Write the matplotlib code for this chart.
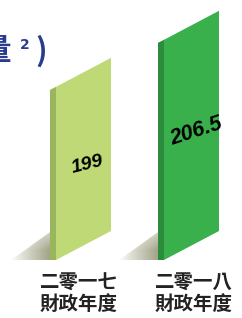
import matplotlib
matplotlib.use("Agg")
import matplotlib.pyplot as plt
import numpy as np
from matplotlib.patches import Polygon

categories = ["二零一七\n財政年度", "二零一八\n財政年度"]
values = [199, 206.5]
value_labels = ["199", "206.5"]
front_colors = ["#BFD977", "#39B04B"]
side_colors = ["#99B55E", "#2B8C3B"]
title_color = "#2A3C8E"

W, H = 242, 318
fig = plt.figure(figsize=(W / 100, H / 100), dpi=100)
ax = fig.add_axes([0, 0, 1, 1])
ax.set_xlim(0, W)
ax.set_ylim(H, 0)
ax.axis("off")

# value -> pixel height scale (axis does not start at zero)
base_val, px_per_unit = 171.7, 6.27
baseline = 260
bar_left = [50, 158]
side_w = 6
face_w = 55
skew = 29

def height(v):
    return (v - base_val) * px_per_unit

label_pos = [(0.58, 0.54), (0.58, 0.49)]
label_rot = [14, 18]
label_size = [14, 15.5]

for i, v in enumerate(values):
    x0 = bar_left[i]
    h = height(v)
    top = baseline - h
    xs = x0 + side_w
    xr = xs + face_w
    # shadow with gradient
    yy, xx = np.mgrid[0:40, 0:45]
    alpha = np.clip(1 - xx[:, ::-1] / 40.0, 0, 1) * np.clip((yy / 30.0), 0, 1) ** 0.8
    img = np.zeros((40, 45, 4))
    img[..., 0] = 0.45
    img[..., 1] = 0.45
    img[..., 2] = 0.28
    img[..., 3] = alpha * 0.65
    im = ax.imshow(img, extent=(x0 - 45, x0, baseline, baseline - 40), zorder=1,
                   interpolation="bilinear")
    clip = Polygon([(x0, baseline), (x0, baseline - 28), (x0 - 36, baseline - 2),
                    (x0 - 40, baseline)], closed=True, transform=ax.transData)
    im.set_clip_path(clip)
    # side strip
    ax.add_patch(Polygon([(x0, baseline), (xs, baseline), (xs, top - 2), (x0, top + 1)],
                         closed=True, facecolor=side_colors[i], edgecolor="none", zorder=2))
    # front face
    ax.add_patch(Polygon([(xs, baseline), (xr, baseline - skew), (xr, top - skew - 2),
                          (xs, top - 2)], closed=True, facecolor=front_colors[i],
                         edgecolor="none", zorder=2))
    # value label
    fx, fy = label_pos[i]
    cx = xs + face_w * fx
    cy = top + h * fy - skew * fx
    ax.text(cx, cy, value_labels[i], rotation=label_rot[i],
            ha="center", va="center", fontsize=label_size[i], fontstyle="italic",
            fontweight="bold", family=["Liberation Sans", "DejaVu Sans"], color="black",
            zorder=3)
    # category label
    ax.text(xs + face_w / 2 - 5 + i * 7, 294, categories[i], ha="center", va="center",
            fontsize=14, fontweight="bold", family=["Noto Sans CJK TC", "DejaVu Sans"],
            color="#222222", linespacing=1.15, zorder=3)

# partially visible title
ax.text(11, 51, "量", ha="right", va="center", fontsize=22, fontweight="bold",
        family=["Noto Sans CJK TC", "DejaVu Sans"], color=title_color)
ax.text(20, 45, "2", ha="left", va="center", fontsize=10, fontweight="bold",
        family=["DejaVu Sans"], color=title_color)
ax.text(35, 51, ")", ha="left", va="center", fontsize=22, fontweight="bold",
        family=["Noto Sans CJK TC", "DejaVu Sans"], color=title_color)

fig.savefig("out.png", dpi=100)
